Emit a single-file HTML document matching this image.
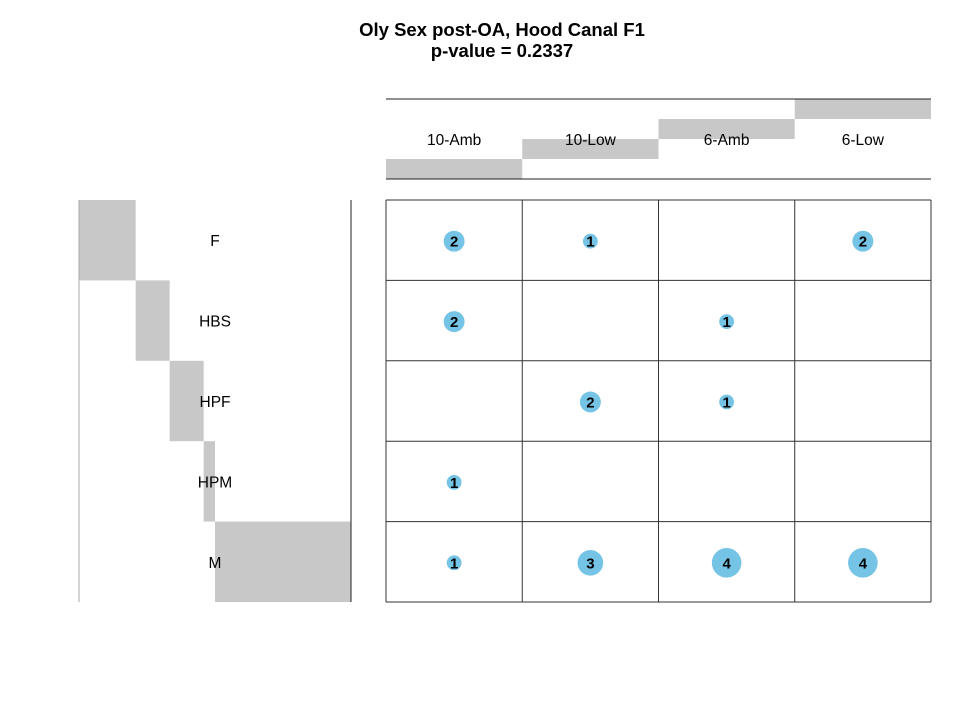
<!DOCTYPE html>
<html><head><meta charset="utf-8"><style>
body{margin:0;background:#fff;}
svg text{font-family:"Liberation Sans",sans-serif;}
</style></head><body>
<svg id="chart" width="972" height="701" xmlns="http://www.w3.org/2000/svg">
<text x="502" y="36" text-anchor="middle" font-size="18.5" font-weight="bold">Oly Sex post-OA, Hood Canal F1</text>
<text x="502" y="57" text-anchor="middle" font-size="18.5" font-weight="bold">p-value = 0.2337</text>
</svg>
<script>
const cols = ["10-Amb","10-Low","6-Amb","6-Low"];
const rows = ["F","HBS","HPF","HPM","M"];
const v_10Amb = [2,2,0,1,1];
const v_10Low = [1,0,2,0,3];
const v_6Amb = [0,1,1,0,4];
const v_6Low = [2,0,0,0,4];
const series = [v_10Amb,v_10Low,v_6Amb,v_6Low];

const NS="http://www.w3.org/2000/svg";
const svg=document.getElementById('chart');
function mk(tag,attrs,parent){const e=document.createElementNS(NS,tag);for(const k in attrs)e.setAttribute(k,attrs[k]);(parent||svg).appendChild(e);return e;}

const gx0=386,gx1=931,gy0=200,gy1=602;
const cw=(gx1-gx0)/cols.length, rh=(gy1-gy0)/rows.length;
const colX=i=>gx0+i*cw, rowY=j=>gy0+j*rh;
const rowTot=rows.map((r,j)=>series.reduce((s,c)=>s+c[j],0));
const colTot=series.map(c=>c.reduce((a,b)=>a+b,0));
const total=rowTot.reduce((a,b)=>a+b,0);

const hy0=99,hy1=179;
let cum=0;
cols.forEach((c,i)=>{
  const h=(hy1-hy0)*colTot[i]/total;
  const r=mk('rect',{x:colX(i),y:hy1-cum-h,width:cw,height:h,fill:'#c8c8c8'});
  
  
  cum+=h;
  const t=mk('text',{x:colX(i)+cw/2,y:145,'text-anchor':'middle','font-size':15.5});
  t.textContent=c;
  
  
});
mk('line',{x1:gx0,x2:gx1,y1:99,y2:99,stroke:'#222'});
mk('line',{x1:gx0,x2:gx1,y1:179,y2:179,stroke:'#222'});

const lx0=79,lx1=351;
let cx=0;
rows.forEach((r,j)=>{
  const w=(lx1-lx0)*rowTot[j]/total;
  const b=mk('rect',{x:lx0+cx,y:rowY(j),width:w,height:rh,fill:'#c8c8c8'});
  
  
  cx+=w;
});
rows.forEach((r,j)=>{
  const t=mk('text',{x:215,y:rowY(j)+rh/2+6,'text-anchor':'middle','font-size':15.5});
  t.textContent=r;
  
  
});
mk('line',{x1:79,x2:79,y1:gy0,y2:gy1,stroke:'#aaa'});
mk('line',{x1:351,x2:351,y1:gy0,y2:gy1,stroke:'#222'});

for(let i=0;i<=cols.length;i++)mk('line',{x1:colX(i),x2:colX(i),y1:gy0,y2:gy1,stroke:'#333'});
for(let j=0;j<=rows.length;j++)mk('line',{x1:gx0,x2:gx1,y1:rowY(j),y2:rowY(j),stroke:'#333'});

series.forEach((c,i)=>c.forEach((v,j)=>{
  if(!v)return;
  const x=colX(i)+cw/2,y=rowY(j)+rh/2;
  const ci=mk('circle',{cx:x,cy:y+1,r:7.4*Math.sqrt(v),fill:'#75c3e5'});
  
  
  const t=mk('text',{x:x,y:y+6.5,'text-anchor':'middle','font-size':15,'font-weight':'bold'});
  t.textContent=v;
  
  
}));
</script>
</body></html>
